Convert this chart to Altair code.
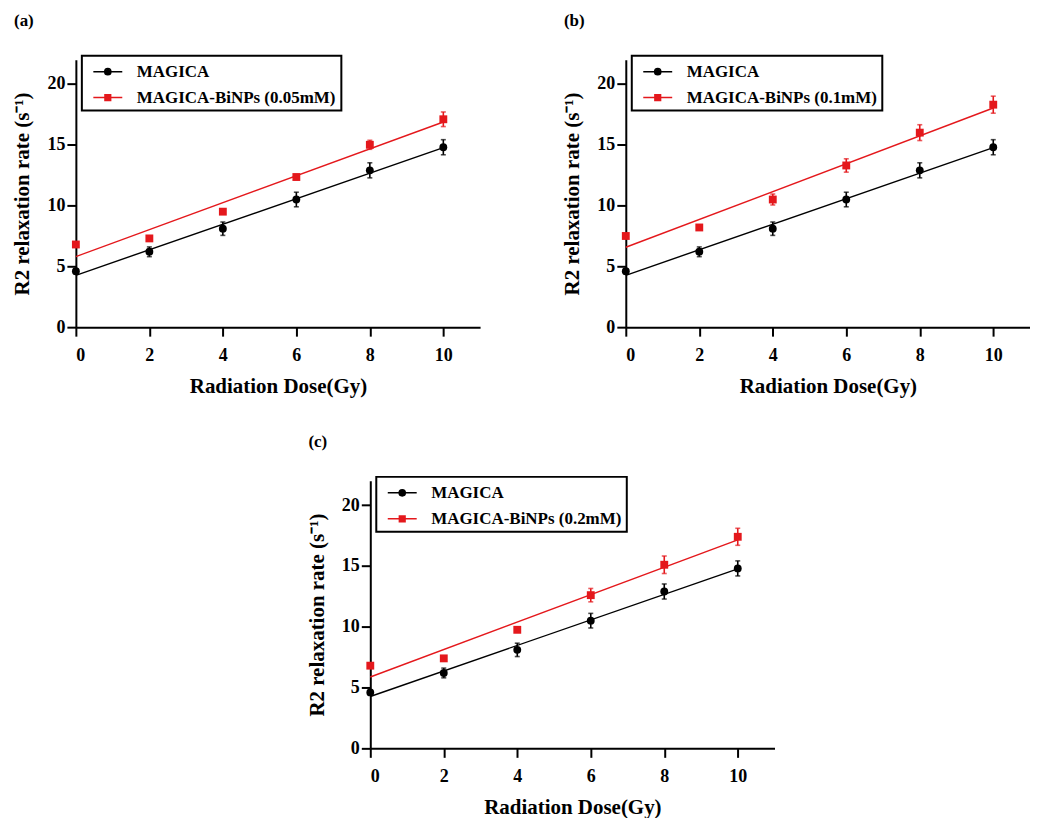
import altair as alt
import pandas as pd

doses = [0, 2, 4, 6, 8, 10]

magica = [4.6, 6.2, 8.1, 10.5, 12.9, 14.8]
magica_err = [0.2, 0.4, 0.55, 0.6, 0.62, 0.62]

bi005 = [6.8, 7.3, 9.5, 12.35, 15.0, 17.1]
bi005_err = [0.1, 0.15, 0.15, 0.2, 0.37, 0.6]

bi01 = [7.5, 8.2, 10.5, 13.3, 16.0, 18.3]
bi01_err = [0.1, 0.15, 0.45, 0.55, 0.65, 0.7]

bi02 = [6.8, 7.4, 9.75, 12.6, 15.1, 17.4]
bi02_err = [0.15, 0.15, 0.2, 0.55, 0.72, 0.7]

panels = [
    ("(a)", "MAGICA-BiNPs (0.05mM)", bi005, bi005_err),
    ("(b)", "MAGICA-BiNPs (0.1mM)", bi01, bi01_err),
    ("(c)", "MAGICA-BiNPs (0.2mM)", bi02, bi02_err),
]

BLACK = "#000000"
RED = "#e4181c"
FONT = "Liberation Serif"
YTITLE = "R2 relaxation rate (s⁻¹)"

# legend symbols (stroke only): a short line with a "filled" marker drawn from strokes
LINE_CIRCLE = (
    "M-1.45,0H1.45"
    "M-0.31,0A0.31,0.31,0,1,1,0.31,0A0.31,0.31,0,1,1,-0.31,0Z"
    "M-0.17,0A0.17,0.17,0,1,1,0.17,0A0.17,0.17,0,1,1,-0.17,0Z"
    "M-0.05,0A0.05,0.05,0,1,1,0.05,0A0.05,0.05,0,1,1,-0.05,0Z"
)
LINE_SQUARE = (
    "M-1.45,0H1.45"
    "M-0.36,-0.29H0.36M-0.36,-0.145H0.36M-0.36,0H0.36M-0.36,0.145H0.36M-0.36,0.29H0.36"
)

W, H = 405, 268


def panel(label, red_name, red_vals, red_errs):
    rows = []
    for d, v, e in zip(doses, magica, magica_err):
        rows.append({"dose": d, "val": v, "err": e, "series": "A"})
    for d, v, e in zip(doses, red_vals, red_errs):
        rows.append({"dose": d, "val": v, "err": e, "series": "B"})
    df = pd.DataFrame(rows)
    keys = ["A", "B"]

    xenc = alt.X(
        "dose:Q",
        scale=alt.Scale(domain=[0, 11], nice=False),
        axis=alt.Axis(values=doses, title="Radiation Dose(Gy)", format="d"),
    )
    yenc = alt.Y(
        "val:Q",
        scale=alt.Scale(domain=[0, 22], nice=False),
        axis=alt.Axis(values=[0, 5, 10, 15, 20], title=YTITLE),
    )
    cscale = alt.Scale(domain=keys, range=[BLACK, RED])
    nocolor = alt.Color("series:N", scale=cscale, legend=None)

    base = alt.Chart(df)

    fit = base.transform_regression(
        "dose", "val", groupby=["series"]
    ).mark_line(strokeWidth=1.4).encode(x=xenc, y=yenc, color=nocolor)

    bars = base.transform_calculate(
        lo="datum.val - datum.err", hi="datum.val + datum.err"
    ).mark_errorbar(ticks=True, thickness=1.6).encode(
        x=xenc,
        y=alt.Y("lo:Q", scale=alt.Scale(domain=[0, 22], nice=False), title=YTITLE),
        y2="hi:Q",
        color=nocolor,
    )

    pts = base.mark_point(filled=True, opacity=1, size=62).encode(
        x=xenc,
        y=yenc,
        color=nocolor,
        shape=alt.Shape(
            "series:N",
            scale=alt.Scale(domain=keys, range=["circle", "square"]),
            legend=None,
        ),
    )

    label_expr = "datum.value == 'A' ? 'MAGICA' : '%s'" % red_name
    stroke_expr = "datum.value == 'A' ? '%s' : '%s'" % (BLACK, RED)
    leg = alt.Legend(
        title=None,
        orient="none",
        legendX=6,
        legendY=-4,
        symbolSize=400,
        symbolStrokeWidth=1.5,
        symbolStrokeColor={"expr": stroke_expr},
        symbolOffset=10,
        labelOffset=18,
        rowPadding=7,
        padding=5,
        labelExpr=label_expr,
        labelFont=FONT,
        labelFontSize=17,
        labelFontWeight="bold",
        labelColor="black",
        strokeColor="black",
        labelLimit=400,
    )

    legend_layer = base.transform_filter("false").mark_point(
        filled=False, strokeWidth=1.5, opacity=1
    ).encode(
        x=xenc,
        y=yenc,
        color=alt.Color("series:N", scale=cscale, legend=leg),
        shape=alt.Shape(
            "series:N",
            scale=alt.Scale(domain=keys, range=[LINE_CIRCLE, LINE_SQUARE]),
            legend=leg,
        ),
    )

    return alt.layer(fit, bars, pts, legend_layer).resolve_scale(
        shape="independent"
    ).properties(
        width=W,
        height=H,
        title=alt.TitleParams(
            label, anchor="start", fontSize=17, font=FONT, fontWeight="bold",
            color="black", offset=25, dx=2,
        ),
    )


a = panel(*panels[0])
b = panel(*panels[1])
c = panel(*panels[2])

# invisible spacer that pushes the bottom panel to the right
spacer = alt.Chart(pd.DataFrame({"s": [0]})).mark_point(opacity=0, size=0).properties(
    width=1, height=1
)

top = alt.hconcat(a, b, spacing=82).resolve_scale(
    color="independent", shape="independent"
).resolve_legend(color="independent", shape="independent")

bottom = alt.hconcat(spacer, c, spacing=230).resolve_scale(
    color="independent", shape="independent"
).resolve_legend(color="independent", shape="independent")

chart = alt.vconcat(top, bottom, spacing=37).resolve_scale(
    color="independent", shape="independent"
).resolve_legend(
    color="independent", shape="independent"
).properties(
    padding={"left": 4, "top": 3, "right": 0, "bottom": 0}
).configure_view(
    stroke=None
).configure_axis(
    grid=False,
    domainColor="black",
    domainWidth=2,
    tickColor="black",
    tickWidth=2,
    tickSize=9,
    labelFont=FONT,
    labelFontSize=18,
    labelFontWeight="bold",
    labelColor="black",
    titleFont=FONT,
    titleFontSize=21,
    titleFontWeight="bold",
    titleColor="black",
).configure_axisX(
    labelPadding=10,
    titlePadding=11,
).configure_axisY(
    labelPadding=2,
    titlePadding=14,
).configure_legend(
    strokeWidth=2,
)

chart.save("out.html", embed_options={"renderer": "svg", "actions": False})
